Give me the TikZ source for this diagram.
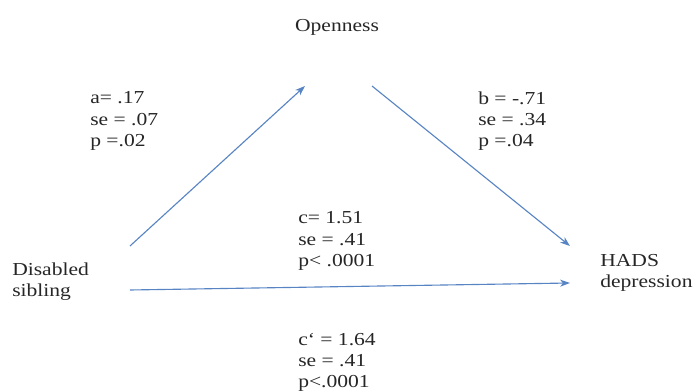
\documentclass[tikz,border=0pt]{standalone}
\usepackage{fontspec}
\setmainfont[FakeStretch=1.18]{Liberation Serif}
\usepackage{xcolor}
\usepackage{tikz}
\usetikzlibrary{arrows.meta,positioning}
\definecolor{pathblue}{RGB}{88,132,196}

\begin{document}
\begin{tikzpicture}[
    x=0.025cm, y=-0.025cm,
    font=\fontsize{13}{15}\selectfont,
    var/.style={align=left, inner sep=0pt, text=black!85},
    coef/.style={align=left, inner sep=0pt, anchor=west, text=black!85},
    arrow/.style={-{Stealth[length=7pt,width=5pt,inset=2pt]}, line width=0.8pt, pathblue},
]
\useasboundingbox (0,0) rectangle (700,392);

\node[var] (open) at (337,27) {Openness};
\node[var, anchor=west] (sib) at (12,282) {Disabled\\sibling};
\node[var, anchor=west] (hads) at (600,273) {HADS\\depression};

% path ends
\coordinate (aS) at (130,246);
\coordinate (aE) at (305,86);
\coordinate (bS) at (372,86);
\coordinate (bE) at (570,246);
\coordinate (cS) at (130,290);
\coordinate (cE) at (570,283);

\draw[arrow] (aS) -- (aE);
\draw[arrow] (bS) -- (bE);
\draw[arrow] (cS) -- (cE);

\node[coef] (pa) at (90,121) {a= .17\\se = .07\\p =.02};
\node[coef] (pb) at (478,121) {b = -.71\\se = .34\\p =.04};
\node[coef] (pc) at (298,241) {c= 1.51\\se = .41\\p< .0001};
\node[coef] (pcd) at (298,362) {c‘ = 1.64\\se = .41\\p<.0001};
\end{tikzpicture}
\end{document}
